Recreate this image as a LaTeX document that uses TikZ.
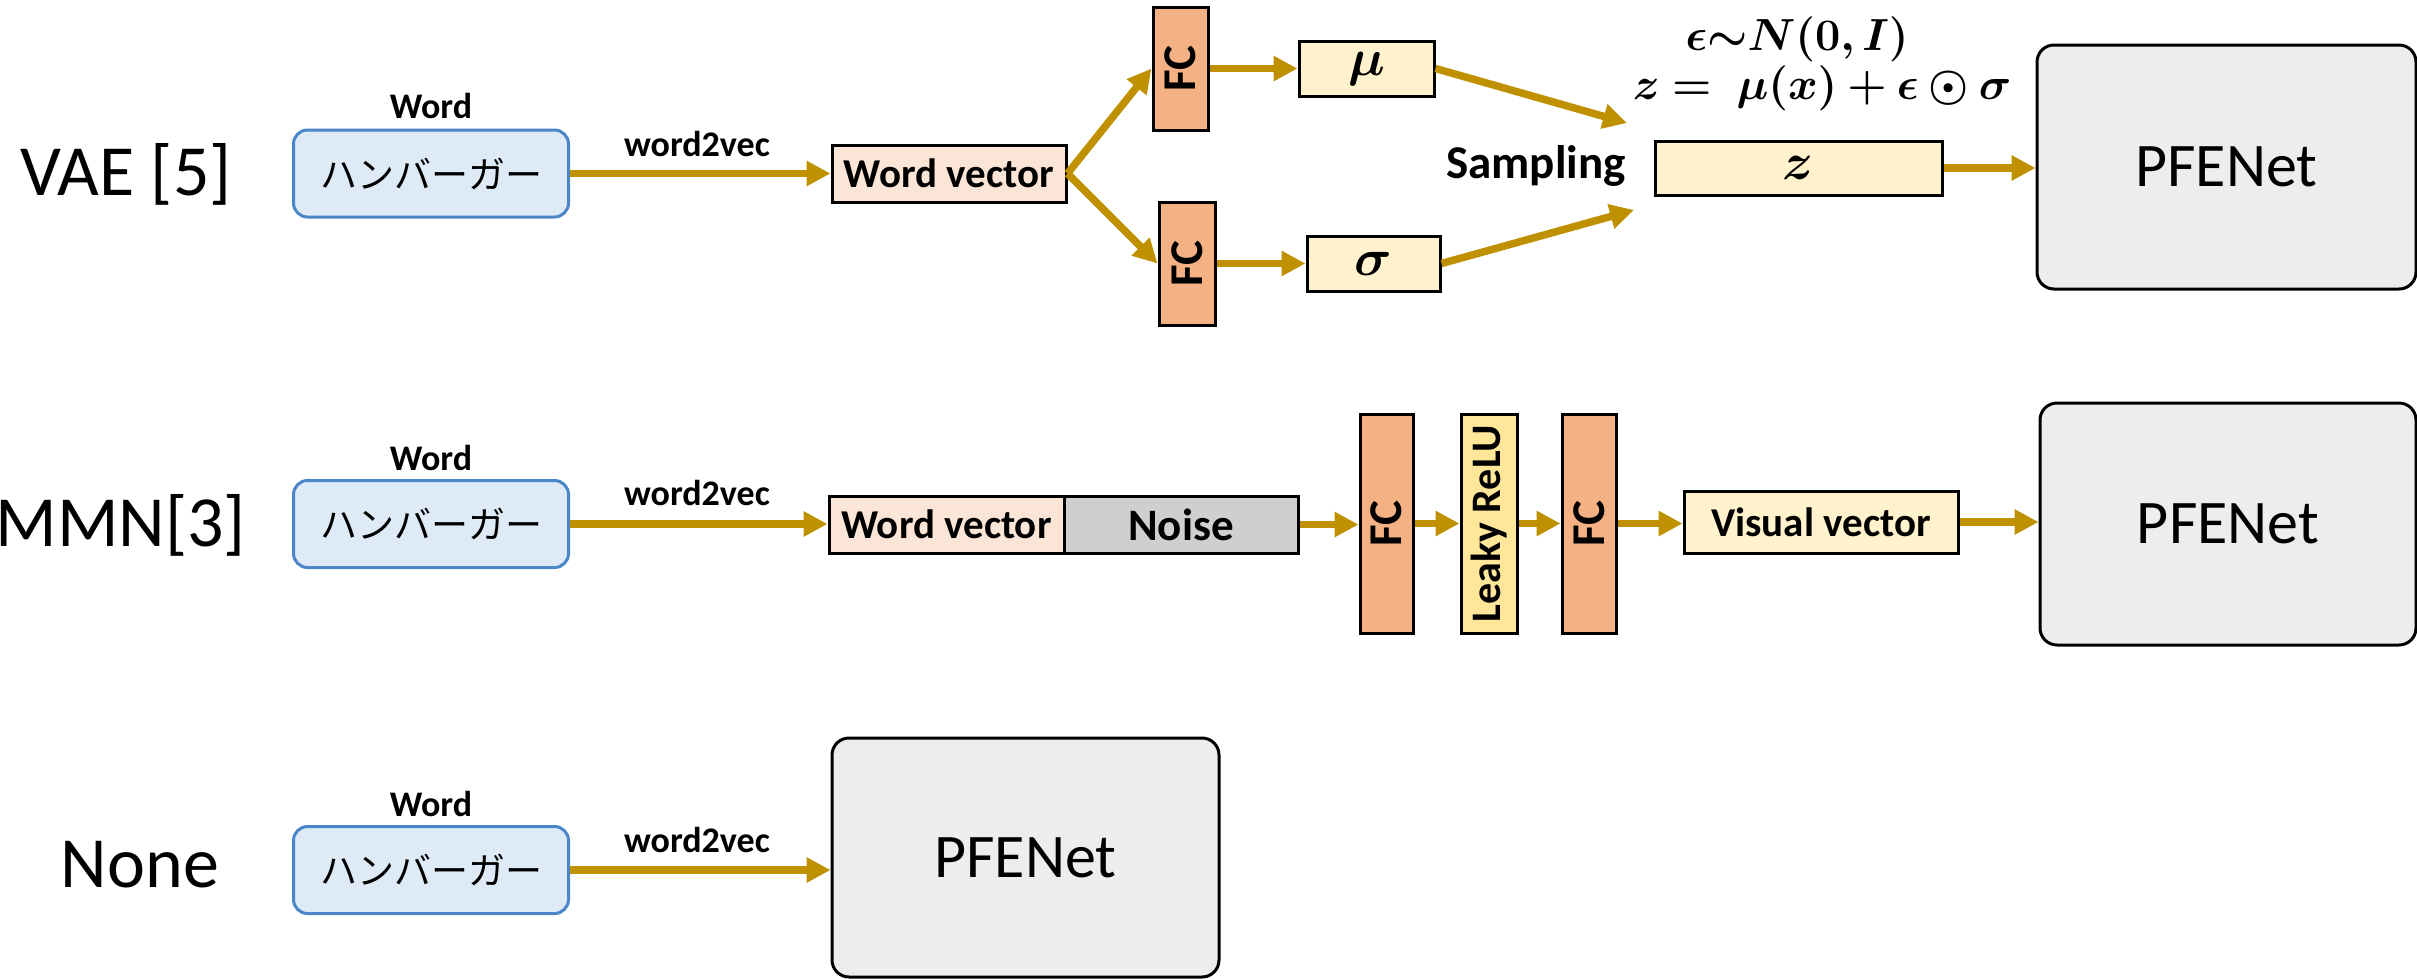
\RequirePackage{fix-cm}
\documentclass[tikz,border=0pt]{standalone}
\usepackage{amsmath,bm}
\usepackage[no-math]{fontspec}
\setmainfont{Carlito}
\newfontfamily\jpfont{Noto Sans CJK JP}
\usetikzlibrary{arrows.meta}

\definecolor{gold}{HTML}{BF9000}
\definecolor{wordblue}{HTML}{4A86C8}
\definecolor{wordfill}{HTML}{DEEBF7}
\definecolor{vecfill}{HTML}{FBE5D6}
\definecolor{fcfill}{HTML}{F4B183}
\definecolor{latfill}{HTML}{FFF2CC}
\definecolor{relufill}{HTML}{FFE699}
\definecolor{noisefill}{HTML}{D0CECE}
\definecolor{netfill}{HTML}{EDEDED}

\newcommand{\vtext}[1]{\rotatebox{90}{#1}}

\tikzset{
  arr/.style={draw=gold, line width=7.5pt, -{Triangle[length=24pt,width=24pt]}},
  rowlabel/.style={anchor=base, inner sep=0pt, font=\fontsize{72}{86}\selectfont},
  smalltag/.style={anchor=base, inner sep=0pt, font=\bfseries\fontsize{36}{43}\selectfont},
  wordbox/.style={draw=wordblue, fill=wordfill, line width=3pt, rounded corners=14pt,
    minimum width=275pt, minimum height=87pt, inner sep=0pt,
    font=\jpfont\fontsize{37}{44}\selectfont},
  plainbox/.style={draw=black, line width=3pt, inner sep=0pt, minimum height=57pt,
    font=\bfseries\fontsize{41}{49}\selectfont},
  fcbox/.style={plainbox, fill=fcfill, font=\bfseries\fontsize{47}{56}\selectfont},
  relubox/.style={plainbox, fill=relufill, font=\bfseries\fontsize{42}{50}\selectfont},
  latbox/.style={plainbox, fill=latfill, minimum height=55pt, font=\fontsize{52}{62}\selectfont},
  mathlbl/.style={anchor=base, inner sep=0pt, font=\fontsize{45}{54}\selectfont},
  netbox/.style={draw=black, fill=netfill, line width=3pt, rounded corners=17pt,
    inner sep=0pt, font=\fontsize{62}{74}\selectfont}
}

\begin{document}
\begin{tikzpicture}[x=1pt,y=-1pt]
\useasboundingbox (0,0) rectangle (2417,978);

% ---------- VAE ----------
\node[rowlabel] (lvae) at (126,195) {VAE [5]};
\node[smalltag] (tag1) at (431,118) {Word};
\node[wordbox] (w1) at (431,173.5) {ハンバーガー};
\node[smalltag] (v1) at (697,156) {word2vec};
\node[plainbox, fill=vecfill, minimum width=234pt] (wv1) at (949,173.5) {Word vector};
\node[fcbox, minimum width=55pt, minimum height=123pt] (fca) at (1180.5,68.5) {\vtext{FC}};
\node[fcbox, minimum width=56pt, minimum height=123pt] (fcb) at (1187,263.5) {\vtext{FC}};
\node[latbox, minimum width=135pt] (mu) at (1366.5,68.5) {$\bm{\mu}$};
\node[latbox, minimum width=133pt] (sg) at (1373.5,263.5) {$\bm{\sigma}$};
\node[anchor=base, inner sep=0pt, font=\bfseries\fontsize{47}{56}\selectfont] (smp) at (1536,178) {Sampling};
\node[latbox, minimum width=287pt, minimum height=54pt] (z) at (1798.5,168) {$\bm{z}$};
\node[mathlbl] (eq1) at (1797,50) {$\bm{\epsilon{\sim}N(0,I)}$};
\node[mathlbl] (eq2) at (1822,99) {$\bm{z =\; \mu(x) + \epsilon\odot\sigma}$};
\node[netbox, minimum width=379pt, minimum height=244pt] (p1) at (2226.5,167) {PFENet};
\coordinate (s1) at (1627,123);
\coordinate (s2) at (1634,210);

\draw[arr] (w1.east) -- (wv1.west);
\draw[arr] (wv1.east) -- (fca.west);
\draw[arr] (wv1.east) -- (fcb.west);
\draw[arr] (fca.east) -- (fca.east -| mu.west);
\draw[arr] (fcb.east) -- (fcb.east -| sg.west);
\draw[arr] (mu.east) -- (s1);
\draw[arr] (sg.east) -- (s2);
\draw[arr] (z.east) -- (z.east -| p1.west);

% ---------- MMN ----------
\node[rowlabel, anchor=base east] (lmmn) at (246,546) {MMN[3]};
\node[smalltag] (tag2) at (431,470) {Word};
\node[wordbox] (w2) at (431,524) {ハンバーガー};
\node[smalltag] (v2) at (697,505) {word2vec};
\node[plainbox, fill=vecfill, minimum width=235pt] (wv2) at (946.5,524.5) {Word vector};
\node[plainbox, fill=noisefill, minimum width=234pt, font=\bfseries\fontsize{45}{54}\selectfont] (nz) at (1181,524.5) {Noise};
\node[fcbox, minimum width=53pt, minimum height=219pt] (fc1) at (1386.5,523.5) {\vtext{FC}};
\node[relubox, minimum width=56pt, minimum height=219pt] (lr) at (1489,523.5) {\vtext{Leaky ReLU}};
\node[fcbox, minimum width=54pt, minimum height=219pt] (fc2) at (1589,523.5) {\vtext{FC}};
\node[plainbox, fill=latfill, minimum width=274pt, minimum height=62pt] (vv) at (1821,522) {Visual vector};
\node[netbox, minimum width=376pt, minimum height=242pt] (p2) at (2228,524) {PFENet};

\draw[arr] (w2.east) -- (w2.east -| wv2.west);
\draw[arr] (nz.east) -- (nz.east -| fc1.west);
\draw[arr] (fc1.east) -- (fc1.east -| lr.west);
\draw[arr] (lr.east) -- (lr.east -| fc2.west);
\draw[arr] (fc2.east) -- (fc2.east -| vv.west);
\draw[arr] (vv.east) -- (vv.east -| p2.west);

% ---------- None ----------
\node[rowlabel] (lnone) at (140,887) {None};
\node[smalltag] (tag3) at (431,816) {Word};
\node[wordbox] (w3) at (431,870) {ハンバーガー};
\node[smalltag] (v3) at (697,852) {word2vec};
\node[netbox, minimum width=387pt, minimum height=239pt] (p3) at (1025.5,857.5) {PFENet};

\draw[arr] (w3.east) -- (w3.east -| p3.west);
\end{tikzpicture}
\end{document}
